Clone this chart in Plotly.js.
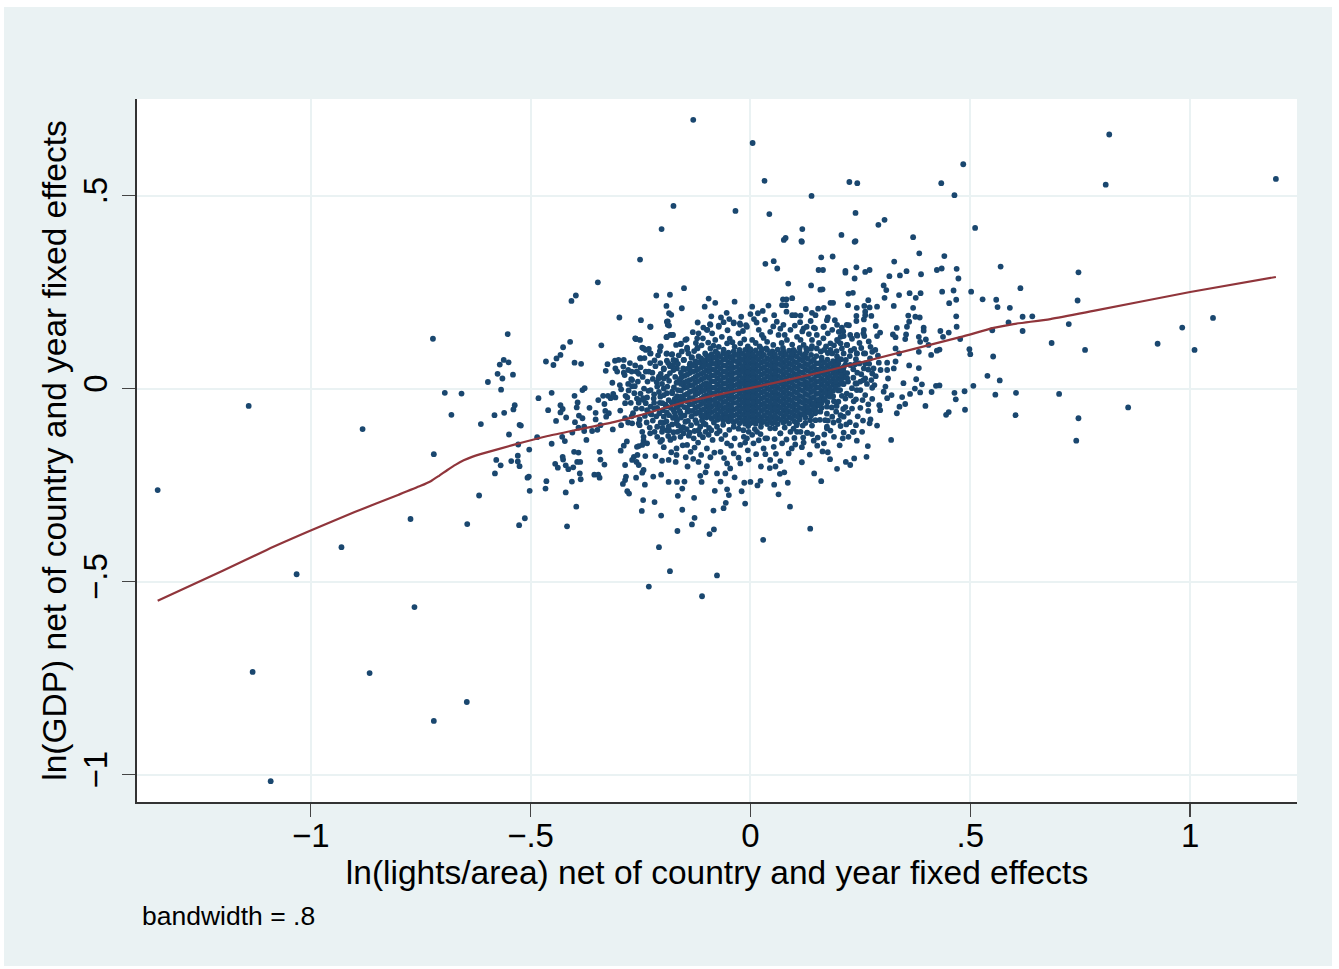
<!DOCTYPE html>
<html><head><meta charset="utf-8">
<script src="https://cdn.plot.ly/plotly-3.0.1.min.js"></script>
<style>html,body{margin:0;padding:0;background:#fff}#c{position:absolute;left:4px;top:7px;width:1328px;height:959px}</style>
</head><body><div id="c"></div>
<script>
const xTicks=[-1,-.5,0,.5,1];
const yTicks=[-1,-.5,0,.5];
const xTickText=["\u22121","\u2212.5","0",".5","1"];
const yTickText=["\u22121","\u2212.5","0",".5"];
const lowessX=[-1.348,-1.2,-1.1,-1,-.9,-.8,-.75,-.727,-.708,-.689,-.67,-.652,-.633,-.614,-.539,-.461,-.386,-.311,-.25,-.159,-.045,.052,.182,.273,.477,.553,.598,.682,.78,1,1.195];
const lowessY=[-.55,-.472,-.418,-.368,-.32,-.275,-.252,-.24,-.226,-.211,-.197,-.186,-.177,-.17,-.146,-.123,-.105,-.087,-.069,-.038,-.009,.014,.048,.074,.133,.157,.167,.18,.201,.25,.289];
const outlierPts=[[-1.348,-.263],[-1.141,-.045],[-1.132,-.734],[-1.091,-1.017],[-1.032,-.481],[-.93,-.411],[-.882,-.105],[-.866,-.737],[-.773,-.338],[-.764,-.566],[-.72,-.861],[-.645,-.812],[-.13,.696],[.005,.636],[.032,.538],[-.034,.46],[.043,.452],[.139,.499],[.225,.535],[.243,.532],[.239,.455],[.434,.532],[.464,.501],[.305,.437],[.291,.424],[.37,.392],[.118,.413],[.116,.382],[.08,.39],[.207,.398],[.239,.382],[-.175,.473],[-.202,.413],[.117,.38],[.237,.38],[.076,.385]];
const rightPts=[[.816,.658],[.484,.581],[.808,.528],[1.195,.543],[.511,.416],[.569,.316],[.746,.301],[.614,.26],[.502,.251],[.528,.231],[.559,.23],[.562,.211],[.59,.209],[.744,.228],[.619,.186],[.641,.187],[.587,.171],[.55,.151],[.619,.149],[.724,.167],[.477,.128],[.685,.118],[.761,.1],[.926,.116],[.982,.158],[1.01,.1],[1.052,.183],[.498,.102],[.5,.089],[.552,.083],[.539,.033],[.567,.021],[.507,.007],[.487,-.007],[.557,-.016],[.604,-.011],[.702,-.014],[.488,-.055],[.603,-.069],[.746,-.077],[.859,-.049],[.741,-.135]];
const leftPts=[[-.722,.129],[-.552,.141],[-.41,.121],[-.426,.107],[-.432,.087],[-.441,.078],[-.465,.07],[-.448,.061],[-.339,.112],[-.4,.067],[-.385,.064],[-.561,.074],[-.57,.062],[-.55,.068],[-.575,.038],[-.54,.036],[-.564,.026],[-.597,.017],[-.567,-.003],[-.695,-.011],[-.657,-.013],[-.68,-.068],[-.582,-.069],[-.56,-.063],[-.536,-.043],[-.539,-.054],[-.613,-.092],[-.525,-.094],[-.522,-.096],[-.549,-.119],[-.485,-.126],[-.528,-.145],[-.503,-.158],[-.452,-.143],[-.72,-.17],[-.578,-.185],[-.568,-.199],[-.544,-.188],[-.529,-.174],[-.529,-.189],[-.525,-.201],[-.581,-.22],[-.507,-.231],[-.504,-.228],[-.502,-.265],[-.617,-.277],[-.464,-.24],[-.466,-.259],[-.644,-.351],[-.513,-.336],[-.526,-.354],[-.42,-.269],[-.396,-.306],[-.417,-.357],[-.452,-.011],[-.482,-.025],[-.46,-.056],[-.432,-.043],[-.427,-.053],[-.432,-.062],[-.442,-.084],[-.419,-.075],[-.4,-.019],[-.393,-.036],[-.395,-.049],[-.382,-.004],[-.377,.001],[-.366,-.05],[-.346,-.03],[-.335,-.019],[-.324,-.019],[-.332,-.04],[-.352,-.063],[-.352,-.08],[-.33,-.058],[-.322,-.064],[-.328,-.073],[-.39,-.07],[-.382,-.077],[-.399,-.087],[-.391,-.101],[-.405,-.114],[-.378,-.099],[-.378,-.11],[-.36,-.11],[-.348,-.107],[-.341,-.095],[-.313,-.106],[-.428,-.125],[-.422,-.136],[-.373,-.133],[-.401,-.164],[-.391,-.166],[-.427,-.177],[-.426,-.184],[-.444,-.195],[-.438,-.205],[-.42,-.199],[-.414,-.209],[-.403,-.204],[-.394,-.19],[-.387,-.19],[-.388,-.22],[-.386,-.235],[-.406,-.241],[-.355,-.223],[-.346,-.223],[-.343,-.231],[-.343,-.164],[-.341,-.184],[-.332,-.197],[-.295,-.161],[-.288,-.148],[-.281,-.137],[-.285,-.198],[-.283,-.228],[-.285,-.237],[-.29,-.247],[-.28,-.266],[-.276,-.272],[-.26,-.231],[-.254,-.149],[-.265,-.177],[-.257,-.172],[-.269,-.185],[-.259,-.19],[-.254,-.198],[-.314,.015],[-.297,.009],[-.294,-.002],[-.271,.024],[-.269,.006],[-.263,.006],[-.256,.018],[-.329,.046],[-.325,.063],[-.308,.072],[-.3,.074],[-.288,.074],[-.307,.052],[-.303,.044],[-.289,.057],[-.288,.041],[-.278,.048],[-.286,.035],[-.259,.044],[-.254,.038],[-.26,.128],[-.251,.126],[-.318,-.025],[-.307,-.023],[-.312,-.014],[-.284,-.019],[-.28,-.023],[-.285,-.038],[-.272,-.037],[-.254,-.03],[-.254,-.037],[-.296,-.057],[-.267,-.064],[-.285,-.077],[-.278,-.088],[-.269,-.09],[-.294,-.095],[-.252,-.08],[-.252,-.095]];
const upperLeftPts=[[-.251,.334],[-.347,.275],[-.397,.241],[-.407,.227],[-.214,.241],[-.183,.243],[-.151,.26],[-.191,.214],[-.156,.208],[-.095,.233],[-.104,.212],[-.08,.222],[-.036,.225],[-.054,.196],[-.089,.187],[-.185,.195],[-.18,.191],[-.298,.184],[-.249,.177],[-.188,.174],[-.185,.163],[-.227,.16],[-.12,.171],[-.092,.167],[-.098,.152],[-.072,.163],[-.038,.171],[-.024,.169],[-.01,.164],[.004,.212],[0,.193],[.008,.18],[-.261,.129],[-.191,.133],[-.182,.139],[-.176,.139],[-.145,.128],[-.158,.116],[-.144,.106],[-.12,.105],[-.204,.109],[-.206,.097],[-.246,.106],[-.231,.103],[-.238,.1],[-.227,.091],[-.191,.09],[-.179,.088],[-.251,.079],[-.169,.072],[-.151,.074],[-.134,.08],[-.176,.061],[-.167,.052],[-.153,.052],[-.25,.055],[-.238,.044],[-.223,.041],[-.197,.05],[-.208,.031],[-.197,.026],[-.212,.005],[-.189,.005],[-.178,-.012],[-.197,-.017],[-.174,-.038],[-.242,0],[-.227,-.004],[-.244,-.025],[-.235,-.023],[-.238,-.038],[-.219,-.037],[-.227,-.047],[-.235,-.056],[-.229,-.101],[-.246,-.112],[-.218,-.112],[-.198,-.089],[-.201,-.112],[-.185,-.069],[-.17,-.073],[-.185,-.108],[-.207,-.064],[-.212,-.125]];
const lowerPts=[[-.243,-.135],[-.258,-.151],[-.235,-.142],[-.205,-.138],[-.182,-.133],[-.159,-.125],[-.144,-.146],[-.239,-.175],[-.246,-.218],[-.243,-.211],[-.24,-.249],[-.221,-.228],[-.203,-.223],[-.186,-.242],[-.167,-.242],[-.15,-.241],[-.155,-.259],[-.165,-.278],[-.128,-.283],[-.244,-.289],[-.218,-.294],[-.247,-.317],[-.203,-.329],[-.155,-.314],[-.127,-.335],[-.133,-.352],[-.166,-.369],[-.084,-.316],[-.061,-.31],[-.056,-.296],[-.049,-.276],[-.053,-.261],[-.081,-.265],[-.111,-.242],[-.068,-.241],[-.036,-.23],[-.014,-.244],[0,-.242],[.023,-.239],[.016,-.251],[-.02,-.266],[-.012,-.298],[.054,-.249],[.085,-.244],[.064,-.274],[.09,-.306],[.136,-.363],[.029,-.392],[-.083,-.365],[-.093,-.377],[-.208,-.411],[-.183,-.473],[-.076,-.484],[-.231,-.513],[-.11,-.538],[.117,-.191],[.145,-.22],[.161,-.24],[.197,-.208],[.227,-.198],[.236,-.181],[.217,-.19],[.181,-.183],[.264,-.177],[.267,-.149],[.32,-.133],[.203,-.147],[.176,-.165],[.164,-.163],[.135,-.171],[.117,-.152],[.102,-.145],[.087,-.168],[.068,-.188],[.045,-.185],[.044,-.206],[.057,-.202],[.067,-.221],[.077,-.217],[.024,-.202],[-.004,-.184],[-.053,-.194],[-.076,-.22],[-.057,-.22],[-.102,-.217],[-.114,-.226],[-.143,-.202],[-.17,-.19],[-.201,-.187],[-.186,-.185],[-.216,-.175],[-.118,-.19],[-.099,-.201],[-.046,-.207],[-.023,-.194],[.03,-.155],[.053,-.151],[.072,-.142],[.144,-.135],[.167,-.142],[.212,-.114],[.235,-.112],[.254,-.112],[.223,-.125],[.242,-.135],[.288,-.096],[.271,-.09],[.174,-.103],[.129,-.114],[.106,-.112],[.068,-.116],[.038,-.129],[-.008,-.129],[.007,-.142],[-.023,-.146],[-.053,-.142],[-.068,-.164],[-.099,-.155],[-.136,-.164]];
const upperRightPts=[[.034,.323],[.053,.33],[.061,.311],[.161,.34],[.187,.342],[.384,.35],[.441,.343],[.327,.329],[.241,.314],[.155,.307],[.165,.307],[.216,.305],[.216,.3],[.261,.302],[.271,.307],[.237,.285],[.316,.291],[.34,.293],[.355,.304],[.388,.296],[.424,.307],[.435,.311],[.469,.31],[.473,.285],[.086,.272],[.138,.267],[.159,.256],[.164,.257],[.223,.246],[.233,.248],[.303,.267],[.309,.255],[.338,.242],[.362,.247],[.387,.247],[.376,.235],[.436,.251],[.462,.254],[.468,.23],[.452,.221],[.305,.235],[.326,.214],[.37,.209],[.268,.229],[.259,.214],[.271,.21],[.288,.212],[.242,.209],[.222,.216],[.182,.222],[.188,.222],[.167,.209],[.154,.207],[.126,.206],[.095,.234],[.074,.231],[.082,.231],[.072,.216],[.081,.216],[.041,.215],[.082,.199],[.095,.19],[.102,.19],[.114,.189],[.14,.196],[.148,.19],[.176,.184],[.192,.177],[.261,.199],[.261,.19],[.241,.188],[.241,.175],[.258,.179],[.275,.188],[.359,.189],[.375,.186],[.385,.184],[.468,.187],[.469,.16],[.361,.173],[.356,.16],[.394,.158],[.394,.15],[.333,.157],[.285,.162],[.258,.152],[.259,.136],[.243,.137],[.295,.145],[.288,.136],[.324,.14],[.33,.133],[.354,.14],[.352,.128],[.383,.134],[.386,.121],[.399,.127],[.405,.113],[.432,.149],[.438,.134],[.451,.145],[.43,.101],[.424,.098],[.411,.087],[.383,.095],[.338,.091],[.33,.104],[.284,.1],[.277,.095],[.242,.091],[.258,.091],[.205,.134],[.224,.164],[.227,.139],[.212,.136],[.201,.147],[.208,.158],[.167,.16],[.174,.177],[.144,.158],[.121,.156],[.182,.117],[.199,.123],[.22,.113],[.186,.091],[.361,.06],[.383,.053],[.292,.067],[.311,.067],[.33,.07],[.311,.048],[.296,.048],[.326,.052],[.277,.039],[.261,.065],[.313,.026],[.377,.024],[.348,.014],[.39,.011],[.422,.007],[.43,.008],[.464,-.011],[.467,-.028],[.412,-.009],[.386,-.01],[.374,0],[.363,-.014],[.345,-.022],[.321,-.017],[.311,-.025],[.307,.005],[.303,-.008],[.282,.009],[.277,.002],[.261,.026],[.25,.018],[.239,.013],[.242,-.004],[.261,-.017],[.277,-.027],[.268,-.041],[.293,-.043],[.295,-.056],[.339,-.047],[.352,-.04],[.333,-.064],[.398,-.045],[.445,-.068],[.451,-.061],[.273,-.08],[.233,-.112],[.235,-.033],[.211,-.053],[.231,-.052],[.196,-.045],[.205,-.069],[.212,-.073],[.186,-.073],[.174,-.065],[.159,-.043],[.14,-.039],[.148,-.082],[.125,-.089],[.105,-.095],[.174,-.099],[.182,-.109],[.205,-.097],[.129,-.115],[.114,-.112],[.015,-.112],[-.004,-.112]];
const ringPts=[[-.228,.16],[-.19,.173],[-.188,.165],[-.178,.139],[-.19,.134],[-.262,.13],[-.148,.126],[-.159,.115],[-.205,.108],[-.243,.104],[-.228,.091],[-.19,.091],[-.178,.089],[-.144,.102],[-.118,.143],[-.121,.13],[-.121,.104],[-.133,.081],[-.152,.074],[-.175,.074],[-.19,.072],[-.25,.078],[-.091,.165],[-.099,.152],[-.087,.143],[-.072,.16],[-.08,.126],[-.065,.134],[-.053,.117],[-.072,.108],[-.091,.104],[-.118,.083],[-.103,.091],[-.038,.169],[-.023,.165],[-.027,.143],[-.023,.117],[-.008,.16],[.004,.126],[.019,.152],[.026,.139],[.045,.147],[.038,.121],[.06,.173],[.075,.165],[.064,.139],[.091,.152],[.083,.126],[.106,.134],[.128,.16],[.147,.156],[.166,.16],[.197,.165],[.219,.165],[.242,.139],[.257,.143],[.197,.126],[.166,.13],[.14,.126],[.121,.113],[.151,.104],[.182,.1],[.219,.113],[.212,.091],[.242,.091],[.261,.091],[.227,.061],[.197,.083],[.257,.022],[.242,.013],[.231,.001],[.25,-.004],[.212,.031],[.219,-.013],[.204,-.004],[.193,.009],[.182,-.021],[.2,-.034],[.174,-.047],[.151,-.034],[.166,-.03],[.147,-.064],[.128,-.051],[.136,-.082],[.113,-.069],[.106,-.09],[.091,-.112],[.068,-.116],[.045,-.103],[.019,-.134],[.034,-.129],[.004,-.12],[-.015,-.125],[-.038,-.099],[-.057,-.12],[-.076,-.099],[-.095,-.12],[-.114,-.099],[-.129,-.129],[-.152,-.116],[-.148,-.086],[-.167,-.082],[-.175,-.056],[-.19,-.108],[-.197,-.073],[-.212,-.099],[-.228,-.116],[-.201,-.133],[-.243,-.125],[-.246,-.146],[-.254,-.09],[-.228,-.064],[-.243,-.03],[-.22,-.026],[-.258,-.026],[-.197,0],[-.178,-.008],[-.205,-.021],[-.186,-.03],[-.159,-.064],[-.209,.026],[-.231,.044],[-.258,.044],[-.269,.022],[-.19,.031],[-.175,.048],[-.156,.031],[-.197,.052],[-.152,.009],[-.137,.065]];
const topBandPts=[[-.141,.091],[-.128,.097],[-.111,.112],[-.096,.119],[-.108,.13],[-.084,.111],[-.061,.101],[-.047,.129],[-.036,.108],[-.014,.127],[-.006,.109],[.012,.118],[.021,.109],[.03,.131],[.052,.113],[.071,.118],[.078,.139],[.095,.114],[.114,.126],[.127,.104],[.133,.141],[.156,.118],[.172,.109],[.19,.112],[.208,.104],[.176,.143],[.151,.139],[.118,.148],[.101,.163],[.052,.161],[.014,.171],[-.017,.149],[-.052,.151],[-.061,.172],[-.107,.158],[-.131,.146],[-.067,.184],[-.048,.18],[-.021,.186],[.017,.195],[.033,.178],[.054,.19],[.028,.201],[.068,.155],[.113,.172],[.137,.175],[.186,.152],[.211,.148],[.231,.129],[.248,.118],[.236,.103],[.269,.122],[.273,.108],[.138,.103],[.16,.096],[.098,.1],[.074,.105],[.036,.104],[-.003,.101],[-.041,.12],[-.079,.096],[-.124,.118],[-.169,.113],[-.156,.096],[-.163,.086],[-.21,.086],[-.218,.073],[-.205,.066],[-.183,.058],[-.165,.064],[-.216,.058],[-.228,.066],[-.241,.079],[-.262,.06],[-.274,.066],[-.27,.044],[-.245,.03],[-.234,.018],[-.222,.025],[-.213,.016],[-.201,.012],[-.185,.02],[-.171,.03],[-.168,.015],[-.161,.022],[-.183,.04],[-.204,.038],[-.187,.066],[-.174,.003],[-.165,-.004],[-.19,-.012],[-.208,-.009],[-.219,-.015],[-.232,-.006],[-.25,-.013],[-.264,-.012],[-.277,-.005],[-.278,.012],[-.167,-.02],[-.157,-.026],[-.172,-.027],[-.193,-.042],[-.206,-.037],[-.212,-.05],[-.199,-.056],[-.181,-.05],[-.166,-.045],[-.159,-.042],[-.172,-.063],[-.158,-.075],[-.19,-.062],[-.214,-.072],[-.222,-.083],[-.24,-.071],[-.26,-.052],[-.27,-.072],[-.247,-.052],[-.236,-.088],[-.204,-.088],[-.191,-.085],[-.178,-.093],[-.164,-.096],[-.153,-.1],[-.142,-.084],[-.135,-.095],[-.125,-.082],[-.118,-.108],[-.106,-.09],[-.094,-.102],[-.083,-.088],[-.07,-.11],[-.062,-.094],[-.048,-.107],[-.027,-.104],[-.016,-.108],[-.005,-.097],[.01,-.105],[.024,-.099],[.056,-.103],[.078,-.101],[.098,-.104],[.119,-.096],[.14,-.096],[.158,-.081],[.17,-.082],[.189,-.088],[.201,-.083],[.168,-.119],[.153,-.127],[.14,-.118],[.12,-.127],[.1,-.128],[.082,-.132],[.055,-.131],[.023,-.118],[-.012,-.14],[-.036,-.129],[-.044,-.148],[-.066,-.131],[-.086,-.133],[-.108,-.126],[-.119,-.14],[-.14,-.122],[-.166,-.112],[-.174,-.128],[-.187,-.123],[-.197,-.152],[-.168,-.155],[-.154,-.147],[-.127,-.153],[-.112,-.172],[-.091,-.178],[-.082,-.166],[-.06,-.18],[-.038,-.168],[-.027,-.179],[-.006,-.16],[.013,-.17],[.034,-.17],[.058,-.169],[.094,-.155],[.121,-.14],[.152,-.148],[.19,-.125],[.21,-.129],[-.147,-.178],[-.168,-.172],[-.18,-.165],[-.13,-.182],[.216,-.048],[.222,-.063],[.24,-.028],[.216,-.026],[.228,-.018],[.208,-.019],[.222,.018],[.234,.028],[.211,.012],[.243,.041],[.22,.04],[.234,.05],[.211,.052],[.248,.065],[.217,.074],[.24,.076],[.268,.049],[.252,.037],[.265,.012],[.275,.022],[.285,.032],[.272,.078],[.252,.105],[.29,.085],[.255,-.03],[.25,-.05],[.268,-.058],[.244,-.072],[.256,-.083],[.226,-.087],[.24,-.095],[.218,-.093],[.195,-.06],[.185,-.049],[.176,-.083],[.159,-.06],[.19,-.033]];
const tiltPts=[[.216,.062],[.226,.084],[.206,.076],[.196,.097],[.228,.098],[.205,.117],[.176,.092],[.168,.1],[.14,.11],[.128,.097],[.112,.105],[.238,.063],[.258,.052],[.27,.064],[.28,.052],[.196,.07],[.22,.027],[.205,.042],[-.168,-.048],[-.161,-.058],[-.15,-.07],[-.143,-.06],[-.134,-.072],[-.122,-.089],[-.11,-.082],[-.102,-.093],[-.176,-.076],[-.168,-.09],[-.158,-.108],[-.145,-.105],[-.138,-.114],[-.127,-.11],[-.115,-.119],[-.102,-.112],[-.089,-.108],[-.076,-.116],[-.186,-.098],[-.175,-.113],[-.2,-.102],[-.191,-.046],[-.179,-.036],[-.164,-.034],[-.2,-.038],[-.218,-.052],[-.225,-.067]];
const coreColumnsA=[
[-.150,[-.048,-.03,-.017,.002,.016,.033,.049]],
[-.138,[-.058,-.041,-.024,-.009,.008,.022,.04,.053,.062]],
[-.125,[-.065,-.05,-.033,-.016,-.002,.015,.03,.046,.06,.07]],
[-.112,[-.07,-.056,-.04,-.026,-.008,.006,.023,.038,.054,.067,.078]],
[-.100,[-.075,-.063,-.047,-.031,-.017,0,.014,.031,.047,.062,.074,.086]],
[-.088,[-.078,-.061,-.046,-.03,-.012,.003,.019,.034,.05,.065,.078,.089]],
[-.075,[-.081,-.068,-.052,-.038,-.022,-.005,.01,.026,.041,.057,.071,.084,.091]],
[-.062,[-.083,-.067,-.051,-.035,-.02,-.003,.012,.028,.044,.06,.075,.092]],
[-.050,[-.085,-.072,-.056,-.042,-.025,-.01,.006,.021,.037,.052,.067,.083,.093]],
[-.038,[-.087,-.07,-.054,-.037,-.023,-.007,.008,.024,.04,.055,.072,.086,.096]],
[-.025,[-.09,-.075,-.06,-.045,-.029,-.013,.002,.017,.033,.048,.064,.079,.092,.1]],
[-.012,[-.091,-.076,-.06,-.044,-.028,-.012,.004,.019,.035,.05,.066,.082,.1]],
[0,[-.09,-.074,-.059,-.043,-.027,-.012,.003,.018,.034,.049,.065,.081,.094,.102]],
[.012,[-.091,-.076,-.06,-.044,-.029,-.013,.002,.018,.033,.049,.064,.08,.099]],
[.025,[-.089,-.075,-.058,-.042,-.026,-.01,.005,.02,.036,.052,.067,.082,.095,.103]],
[.038,[-.092,-.077,-.061,-.046,-.03,-.015,.001,.016,.032,.047,.063,.078,.1]],
[.050,[-.09,-.074,-.058,-.043,-.027,-.011,.005,.02,.035,.051,.066,.082,.096]],
[.062,[-.092,-.077,-.06,-.045,-.029,-.014,.002,.018,.033,.048,.064,.079,.101]],
[.075,[-.088,-.073,-.057,-.042,-.026,-.01,.006,.021,.037,.053,.068,.084,.097]],
[.088,[-.09,-.074,-.06,-.044,-.028,-.013,.003,.018,.034,.05,.065,.08,.098]],
[.100,[-.085,-.07,-.055,-.04,-.024,-.008,.007,.023,.038,.054,.069,.085,.096]],
[.112,[-.08,-.066,-.05,-.034,-.019,-.003,.012,.028,.043,.059,.075,.094]],
[.125,[-.075,-.061,-.045,-.03,-.014,.002,.017,.033,.049,.064,.08,.09]],
[.138,[-.07,-.056,-.041,-.025,-.009,.006,.022,.038,.053,.069,.087]],
[.150,[-.06,-.046,-.03,-.014,.002,.017,.033,.049,.065,.084]],
[.162,[-.05,-.037,-.021,-.006,.01,.025,.041,.057,.072,.08]],
[.175,[-.035,-.019,-.004,.012,.028,.043,.059,.075]],
[.188,[-.02,-.006,.01,.025,.041,.056,.071]],
[.200,[-.005,.01,.026,.042,.055,.066]],
[.212,[.012,.028,.044,.056]]
];
const coreColumnsB=[
[-.158,[-.039,-.021,-.005,.012,.027,.041]],
[-.144,[-.05,-.033,-.014,.004,.019,.036,.051]],
[-.131,[-.058,-.04,-.025,-.006,.009,.025,.044,.06]],
[-.119,[-.062,-.046,-.03,-.012,.002,.019,.035,.05,.068]],
[-.106,[-.07,-.054,-.037,-.021,-.005,.011,.027,.042,.058,.072]],
[-.094,[-.071,-.055,-.038,-.022,-.006,.011,.027,.043,.057,.074,.082]],
[-.081,[-.073,-.058,-.042,-.029,-.013,.002,.018,.034,.048,.064,.08]],
[-.068,[-.076,-.06,-.044,-.027,-.012,.004,.02,.036,.052,.067,.083]],
[-.056,[-.076,-.063,-.048,-.033,-.017,-.002,.014,.03,.045,.06,.076,.088]],
[-.044,[-.079,-.062,-.046,-.03,-.015,0,.016,.032,.048,.063,.079]],
[-.031,[-.083,-.067,-.052,-.037,-.021,-.005,.01,.025,.041,.056,.071,.087]],
[-.018,[-.084,-.068,-.052,-.036,-.02,-.004,.012,.027,.043,.058,.074,.09]],
[-.006,[-.082,-.066,-.051,-.035,-.02,-.004,.011,.026,.042,.057,.073,.089]],
[.006,[-.084,-.068,-.052,-.036,-.021,-.005,.01,.026,.041,.057,.072,.088]],
[.018,[-.082,-.067,-.05,-.034,-.018,-.002,.013,.028,.044,.06,.075,.09]],
[.031,[-.085,-.069,-.053,-.038,-.022,-.007,.009,.024,.04,.055,.071,.087]],
[.044,[-.082,-.066,-.05,-.035,-.019,-.003,.013,.028,.043,.059,.074,.09]],
[.056,[-.084,-.069,-.052,-.037,-.021,-.006,.01,.026,.041,.056,.072,.089]],
[.069,[-.081,-.065,-.049,-.034,-.018,-.002,.014,.029,.045,.061,.076,.091]],
[.081,[-.082,-.066,-.052,-.036,-.02,-.005,.011,.026,.042,.058,.073,.089]],
[.094,[-.077,-.062,-.047,-.032,-.016,0,.015,.031,.046,.062,.077,.09]],
[.106,[-.072,-.058,-.042,-.026,-.011,.005,.02,.036,.051,.067,.083]],
[.119,[-.067,-.053,-.037,-.022,-.006,.01,.025,.041,.057,.072,.086]],
[.131,[-.062,-.048,-.033,-.017,-.001,.014,.03,.046,.061,.077]],
[.144,[-.052,-.038,-.022,-.006,.01,.025,.041,.057,.075]],
[.156,[-.042,-.029,-.013,.002,.018,.033,.049,.065]],
[.169,[-.027,-.011,.004,.02,.036,.051,.067]],
[.181,[-.012,.002,.018,.033,.049,.064]],
[.194,[.003,.018,.034,.05,.06]],
[.206,[.02,.036,.05]]
];
const corePts=[...coreColumnsA,...coreColumnsB].flatMap(c=>c[1].map(y=>[c[0],y]));
const allPts=[...outlierPts,...rightPts,...leftPts,...upperLeftPts,...lowerPts,...upperRightPts,...ringPts,...topBandPts,...tiltPts,...corePts];
const pointTrace={type:"scatter",mode:"markers",x:allPts.map(p=>p[0]),y:allPts.map(p=>p[1]),marker:{color:"#1a476f",size:5.8},hoverinfo:"skip",showlegend:false};
const lineTrace={type:"scatter",mode:"lines",x:lowessX,y:lowessY,line:{color:"#90353b",width:2.2,shape:"spline",smoothing:.6},hoverinfo:"skip",showlegend:false};
const font="'Liberation Sans',Arial,sans-serif";
const layout={width:1328,height:959,paper_bgcolor:"#eaf2f3",plot_bgcolor:"#ffffff",showlegend:false,
 margin:{l:132.5,r:35,t:92,b:164},
 font:{family:font,color:"#000"},
 xaxis:{range:[-1.395,1.243],tickvals:xTicks,ticktext:xTickText,ticks:"outside",ticklen:13,tickwidth:1.5,tickcolor:"#444",ticklabelstandoff:-10,showline:true,linecolor:"#333",linewidth:2,showgrid:true,gridcolor:"#eaf2f3",gridwidth:2,zeroline:false,tickfont:{size:33,family:font},title:{text:"ln(lights/area) net of country and year fixed effects",font:{size:33.5,family:font},standoff:6}},
 yaxis:{range:[-1.071,.75],tickvals:yTicks,ticktext:yTickText,ticks:"outside",ticklen:13,tickwidth:1.5,tickcolor:"#444",tickangle:-90,ticklabelstandoff:2,showline:true,linecolor:"#333",linewidth:2,showgrid:true,gridcolor:"#eaf2f3",gridwidth:2,zeroline:false,tickfont:{size:33,family:font},title:{text:"ln(GDP) net of country and year fixed effects",font:{size:33.5,family:font},standoff:0}},
 annotations:[{text:"bandwidth = .8",xref:"paper",yref:"paper",x:.0025,y:-.162,xanchor:"left",yanchor:"middle",showarrow:false,font:{size:26.5,family:font,color:"#000"}}]
};
Plotly.newPlot("c",[pointTrace,lineTrace],layout,{displayModeBar:false,staticPlot:true});
</script></body></html>
